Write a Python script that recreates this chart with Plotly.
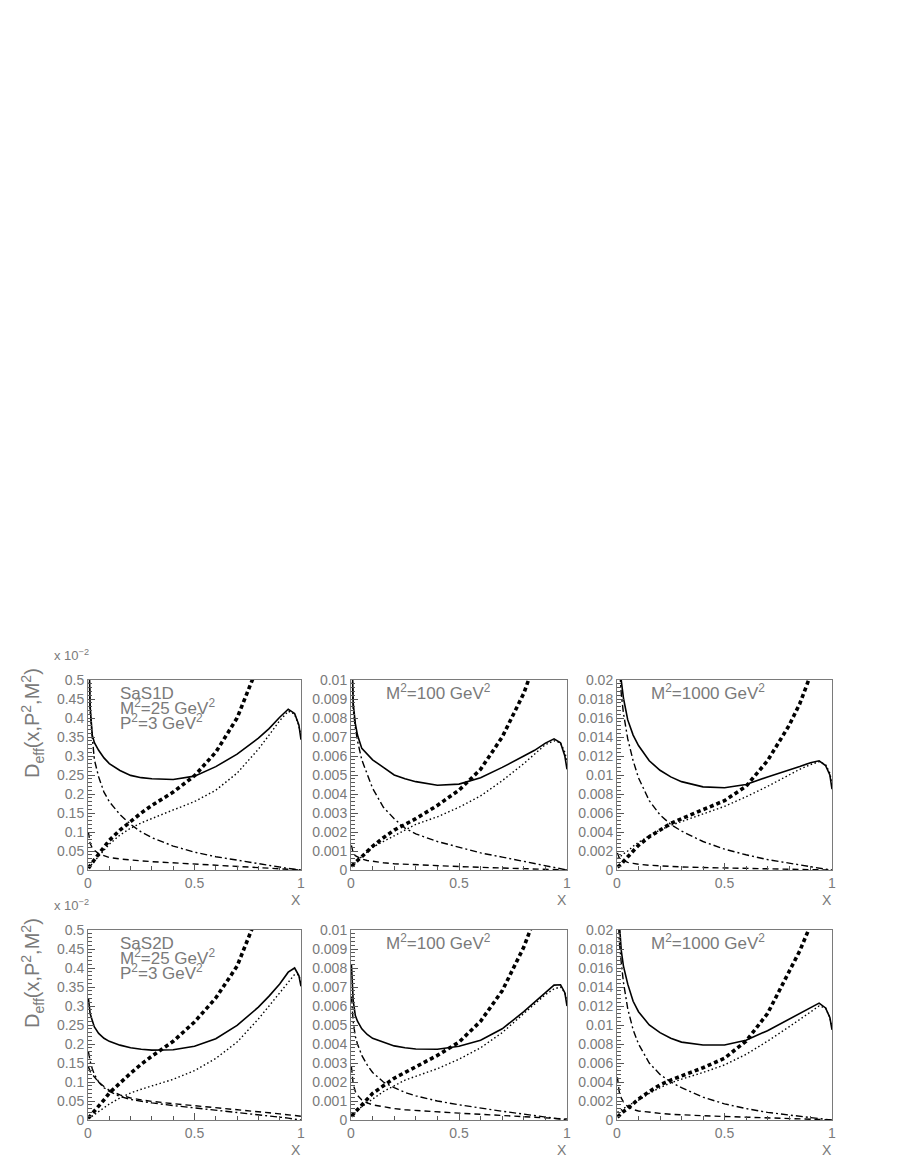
import plotly.graph_objects as go

W, H = 899, 1163

# ---------------- data ----------------
X = [0.002, 0.01, 0.02, 0.03, 0.05, 0.075, 0.1, 0.15, 0.2, 0.25, 0.3, 0.4,
     0.5, 0.6, 0.7, 0.8, 0.85, 0.9, 0.94, 0.97, 0.99, 1.0]

# Panel 1: SaS1D, M2=25 (axis in units of 1e-2)
P1_TOTAL = [0.65, 0.43, 0.355, 0.335, 0.315, 0.295, 0.28, 0.262, 0.249, 0.243, 0.24, 0.238,
            0.247, 0.272, 0.305, 0.347, 0.372, 0.402, 0.423, 0.412, 0.382, 0.343]
P1_THICK = [0.005, 0.012, 0.02, 0.027, 0.042, 0.06, 0.078, 0.105, 0.128, 0.15, 0.17, 0.205,
            0.248, 0.31, 0.40, 0.53, 0.61, 0.70, 0.78, 0.85, 0.90, 0.92]
P1_DOT = [0.005, 0.01, 0.018, 0.025, 0.038, 0.053, 0.068, 0.092, 0.11, 0.124, 0.136, 0.158,
          0.18, 0.21, 0.255, 0.318, 0.355, 0.393, 0.418, 0.41, 0.38, 0.35]
P1_DASHDOT = [0.6, 0.42, 0.35, 0.29, 0.245, 0.205, 0.18, 0.146, 0.12, 0.1, 0.085, 0.063,
              0.047, 0.035, 0.026, 0.016, 0.012, 0.007, 0.004, 0.002, 0.0005, 0.0]
P1_DASH = [0.1, 0.07, 0.058, 0.052, 0.043, 0.037, 0.033, 0.029, 0.026, 0.024, 0.022, 0.019,
           0.015, 0.012, 0.009, 0.006, 0.005, 0.003, 0.002, 0.001, 0.0003, 0.0]

# Panel 2: SaS1D, M2=100
P2_TOTAL = [0.013, 0.0088, 0.0077, 0.0071, 0.0064, 0.0061, 0.0058, 0.0054, 0.0050, 0.0048, 0.00465, 0.00446,
            0.00452, 0.00486, 0.0054, 0.006, 0.0063, 0.00668, 0.0069, 0.0067, 0.006, 0.0053]
P2_THICK = [0.0002, 0.0003, 0.0004, 0.0005, 0.0007, 0.001, 0.00125, 0.0017, 0.0021, 0.0024, 0.0027, 0.0034,
            0.0042, 0.0053, 0.007, 0.0093, 0.0107, 0.0125, 0.014, 0.015, 0.016, 0.0165]
P2_DOT = [0.0002, 0.0003, 0.0004, 0.0005, 0.0007, 0.00095, 0.0012, 0.0015, 0.0018, 0.0021, 0.0024, 0.0028,
          0.0033, 0.0039, 0.0047, 0.0056, 0.0061, 0.0066, 0.0068, 0.0067, 0.0062, 0.0057]
P2_DASHDOT = [0.012, 0.0085, 0.0075, 0.0068, 0.0058, 0.005, 0.0043, 0.0033, 0.0027, 0.0022, 0.0019, 0.0015,
              0.0012, 0.0009, 0.00068, 0.00045, 0.00034, 0.00022, 0.00012, 0.00005, 0.00001, 0.0]
P2_DASH = [0.0013, 0.0009, 0.00075, 0.00068, 0.00058, 0.0005, 0.00045, 0.00038, 0.00033, 0.0003, 0.00027, 0.00022,
           0.00018, 0.00014, 0.00011, 0.00008, 0.00006, 0.00004, 0.00003, 0.00001, 0.0, 0.0]

# Panel 3: SaS1D, M2=1000
P3_TOTAL = [0.03, 0.024, 0.0199, 0.0181, 0.0158, 0.0142, 0.0131, 0.0115, 0.0105, 0.0098, 0.0093, 0.00875,
            0.00865, 0.0090, 0.0098, 0.0105, 0.0109, 0.0113, 0.0115, 0.011, 0.0100, 0.0085]
P3_THICK = [0.0003, 0.0004, 0.0006, 0.0009, 0.0014, 0.002, 0.0026, 0.0035, 0.0042, 0.0049, 0.0054, 0.0063,
            0.0073, 0.0088, 0.0115, 0.0152, 0.0175, 0.0205, 0.023, 0.025, 0.026, 0.027]
P3_DOT = [0.0012, 0.0013, 0.0015, 0.0017, 0.002, 0.0025, 0.0029, 0.0036, 0.0042, 0.0047, 0.0051, 0.0059,
          0.0067, 0.0077, 0.0088, 0.01, 0.0106, 0.0111, 0.0114, 0.0111, 0.0102, 0.0090]
P3_DASHDOT = [0.03, 0.022, 0.0185, 0.0165, 0.0138, 0.0115, 0.0097, 0.0073, 0.0058, 0.0048, 0.0041, 0.003,
              0.0022, 0.0016, 0.0011, 0.0007, 0.0005, 0.0003, 0.00015, 0.00006, 0.00001, 0.0]
P3_DASH = [0.0018, 0.0013, 0.0011, 0.001, 0.0008, 0.0007, 0.0006, 0.0005, 0.00042, 0.00036, 0.00032, 0.00026,
           0.0002, 0.00016, 0.00012, 0.00008, 0.00006, 0.00004, 0.00003, 0.00001, 0.0, 0.0]

# Panel 4: SaS2D, M2=25 (axis in units of 1e-2)
P4_TOTAL = [0.32, 0.28, 0.262, 0.245, 0.228, 0.215, 0.207, 0.197, 0.19, 0.186, 0.184, 0.185,
            0.194, 0.214, 0.249, 0.297, 0.326, 0.358, 0.389, 0.4, 0.38, 0.352]
P4_THICK = [0.005, 0.01, 0.017, 0.023, 0.035, 0.053, 0.071, 0.098, 0.123, 0.147, 0.168, 0.207,
            0.258, 0.321, 0.405, 0.545, 0.63, 0.73, 0.82, 0.9, 0.95, 0.98]
P4_DOT = [0.003, 0.006, 0.01, 0.014, 0.022, 0.032, 0.042, 0.058, 0.071, 0.081, 0.089, 0.107,
          0.13, 0.162, 0.205, 0.266, 0.3, 0.335, 0.365, 0.383, 0.382, 0.362]
P4_DASHDOT = [0.18, 0.155, 0.135, 0.12, 0.1, 0.085, 0.075, 0.062, 0.054, 0.049, 0.045, 0.038,
              0.032, 0.026, 0.021, 0.015, 0.012, 0.008, 0.005, 0.002, 0.0005, 0.0]
P4_DASH = [0.14, 0.128, 0.12, 0.113, 0.1, 0.088, 0.078, 0.066, 0.058, 0.053, 0.049, 0.043,
           0.038, 0.033, 0.028, 0.022, 0.019, 0.016, 0.014, 0.012, 0.011, 0.01]

# Panel 5: SaS2D, M2=100
P5_TOTAL = [0.0082, 0.0063, 0.0055, 0.0052, 0.0048, 0.0045, 0.0043, 0.0041, 0.0039, 0.0038, 0.00374, 0.00372,
            0.00388, 0.0042, 0.0048, 0.0057, 0.0062, 0.0067, 0.0071, 0.00712, 0.0067, 0.006]
P5_THICK = [0.0002, 0.0003, 0.0004, 0.0005, 0.0008, 0.0011, 0.0014, 0.0018, 0.0022, 0.0025, 0.0028, 0.0034,
            0.0041, 0.0052, 0.0068, 0.0091, 0.0106, 0.0123, 0.0138, 0.015, 0.0158, 0.016]
P5_DOT = [0.0002, 0.0003, 0.0004, 0.0005, 0.0007, 0.0009, 0.0011, 0.0015, 0.0018, 0.0021, 0.0023, 0.0027,
          0.0032, 0.0038, 0.0046, 0.0056, 0.0061, 0.0066, 0.0069, 0.0070, 0.0067, 0.0062]
P5_DASHDOT = [0.0065, 0.0052, 0.0044, 0.004, 0.0034, 0.0029, 0.0025, 0.002, 0.0017, 0.00145, 0.00127, 0.001,
              0.0008, 0.00062, 0.00046, 0.00031, 0.00024, 0.00016, 0.0001, 0.00005, 0.00001, 0.0]
P5_DASH = [0.0028, 0.0019, 0.0015, 0.0013, 0.00105, 0.0009, 0.0008, 0.00068, 0.0006, 0.00054, 0.0005, 0.00042,
           0.00036, 0.0003, 0.00024, 0.00018, 0.00015, 0.00012, 0.0001, 0.00008, 0.00006, 0.00005]

# Panel 6: SaS2D, M2=1000
P6_TOTAL = [0.028, 0.021, 0.0178, 0.0162, 0.0143, 0.0125, 0.0114, 0.0100, 0.0092, 0.0086, 0.0082, 0.0079,
            0.0079, 0.0084, 0.0094, 0.0106, 0.0112, 0.0118, 0.0123, 0.0118, 0.0108, 0.0095]
P6_THICK = [0.0003, 0.0005, 0.0007, 0.0009, 0.0012, 0.0017, 0.0022, 0.003, 0.0037, 0.0042, 0.0046, 0.0055,
            0.0065, 0.0083, 0.0112, 0.0155, 0.0178, 0.0205, 0.023, 0.025, 0.026, 0.027]
P6_DOT = [0.0008, 0.0009, 0.001, 0.0012, 0.0015, 0.0018, 0.0021, 0.0028, 0.0034, 0.0039, 0.0043, 0.005,
          0.0058, 0.0069, 0.0083, 0.0098, 0.0106, 0.0114, 0.012, 0.0118, 0.0108, 0.0097]
P6_DASHDOT = [0.025, 0.019, 0.0165, 0.0145, 0.0117, 0.0095, 0.008, 0.006, 0.0048, 0.004, 0.0034, 0.0024,
              0.0017, 0.0012, 0.0008, 0.0005, 0.00038, 0.00025, 0.00015, 0.00007, 0.00002, 0.0]
P6_DASH = [0.0045, 0.003, 0.0023, 0.0019, 0.0014, 0.0011, 0.00095, 0.0008, 0.0007, 0.0006, 0.00053, 0.00045,
           0.00037, 0.0003, 0.00023, 0.00017, 0.00014, 0.00011, 0.00008, 0.00005, 0.00002, 0.00001]

# tick labels
XTICK_VALS = [0, 0.5, 1]
XTICK_TEXT = ["0", "0.5", "1"]
YT_A_TEXT = ["0", "0.05", "0.1", "0.15", "0.2", "0.25", "0.3", "0.35", "0.4", "0.45", "0.5"]
YT_B_TEXT = ["0", "0.001", "0.002", "0.003", "0.004", "0.005", "0.006", "0.007", "0.008", "0.009", "0.01"]
YT_C_TEXT = ["0", "0.002", "0.004", "0.006", "0.008", "0.01", "0.012", "0.014", "0.016", "0.018", "0.02"]
YMAX = [0.5, 0.01, 0.02]

PANEL_LABELS = [
    ["SaS1D", "M<sup>2</sup>=25 GeV<sup>2</sup>", "P<sup>2</sup>=3 GeV<sup>2</sup>"],
    ["M<sup>2</sup>=100 GeV<sup>2</sup>"],
    ["M<sup>2</sup>=1000 GeV<sup>2</sup>"],
    ["SaS2D", "M<sup>2</sup>=25 GeV<sup>2</sup>", "P<sup>2</sup>=3 GeV<sup>2</sup>"],
    ["M<sup>2</sup>=100 GeV<sup>2</sup>"],
    ["M<sup>2</sup>=1000 GeV<sup>2</sup>"],
]

PANEL_DATA = [
    (P1_TOTAL, P1_THICK, P1_DOT, P1_DASHDOT, P1_DASH),
    (P2_TOTAL, P2_THICK, P2_DOT, P2_DASHDOT, P2_DASH),
    (P3_TOTAL, P3_THICK, P3_DOT, P3_DASHDOT, P3_DASH),
    (P4_TOTAL, P4_THICK, P4_DOT, P4_DASHDOT, P4_DASH),
    (P5_TOTAL, P5_THICK, P5_DOT, P5_DASHDOT, P5_DASH),
    (P6_TOTAL, P6_THICK, P6_DOT, P6_DASHDOT, P6_DASH),
]

# ---------------- layout geometry (pixels) ----------------
COLS = [(80, 293), (343, 559), (609, 824)]
ROWS = [(672, 862), (922, 1112)]

GRAY = "#7a7a7a"
FONT = "Liberation Sans, Arial, sans-serif"

STYLES = [
    dict(color="black", width=1.6, dash="solid"),
    dict(color="black", width=3.6, dash="4px,3px"),
    dict(color="black", width=1.4, dash="1.5px,2.5px"),
    dict(color="black", width=1.4, dash="7px,3px,2px,3px"),
    dict(color="black", width=1.4, dash="6px,4px"),
]

fig = go.Figure()
layout = dict(width=W, height=H, margin=dict(l=0, r=0, t=0, b=0, autoexpand=False),
              paper_bgcolor="white", plot_bgcolor="white", showlegend=False)
annotations = []


def py(p):
    return 1 - p / H


for i in range(6):
    r, c = divmod(i, 3)
    x0, x1 = COLS[c]
    y0, y1 = ROWS[r]
    xd = [x0 / W, x1 / W]
    yd = [py(y1), py(y0)]
    n = i + 1
    xa = "x" if n == 1 else f"x{n}"
    ya = "y" if n == 1 else f"y{n}"
    for k, ys in enumerate(PANEL_DATA[i]):
        fig.add_trace(go.Scatter(x=X, y=ys, mode="lines", line=STYLES[k],
                                 xaxis=xa, yaxis=ya, hoverinfo="skip"))
    ymax = YMAX[c]
    ytext = [YT_A_TEXT, YT_B_TEXT, YT_C_TEXT][c]
    yvals = [ymax * j / 10 for j in range(11)]
    layout[f"xaxis{n if n > 1 else ''}"] = dict(
        domain=xd, anchor=ya, range=[0, 1], showgrid=False, zeroline=False, automargin=False,
        showline=True, mirror=True, linecolor=GRAY, linewidth=1,
        tickmode="array", tickvals=XTICK_VALS, ticktext=XTICK_TEXT,
        ticks="inside", ticklen=7, tickcolor="#555", tickwidth=1,
        minor=dict(tickmode="linear", tick0=0, dtick=0.1, ticks="inside", ticklen=4,
                   tickcolor="#555", tickwidth=1),
        tickfont=dict(family=FONT, size=14, color=GRAY), fixedrange=True)
    layout[f"yaxis{n if n > 1 else ''}"] = dict(
        domain=yd, anchor=xa, range=[0, ymax], showgrid=False, zeroline=False, automargin=False,
        showline=True, mirror=True, linecolor=GRAY, linewidth=1,
        tickmode="array", tickvals=yvals, ticktext=ytext,
        ticks="inside", ticklen=7, tickcolor="#555", tickwidth=1,
        minor=dict(tickmode="linear", tick0=0, dtick=ymax / 50, ticks="inside", ticklen=4,
                   tickcolor="#555", tickwidth=1),
        tickfont=dict(family=FONT, size=14, color=GRAY), fixedrange=True)

    # "X" axis label
    annotations.append(dict(text="X", xref="paper", yref="paper",
                            x=(x1 - 5) / W, y=py(y1 + 30), xanchor="center", yanchor="middle",
                            showarrow=False, font=dict(family=FONT, size=14, color=GRAY)))
    # panel text
    labels = PANEL_LABELS[i]
    if len(labels) == 3:
        lx = x0 + 31
        for j, t in enumerate(labels):
            annotations.append(dict(text=t, xref="paper", yref="paper",
                                    x=lx / W, y=py(y0 + 24 + 15 * j),
                                    xanchor="left", yanchor="bottom", showarrow=False,
                                    borderpad=0,
                                    font=dict(family=FONT, size=17, color=GRAY)))
    else:
        lx = x0 + (34 if c == 1 else 33)
        annotations.append(dict(text=labels[0], xref="paper", yref="paper",
                                x=lx / W, y=py(y0 + 24),
                                xanchor="left", yanchor="bottom", showarrow=False,
                                borderpad=0,
                                font=dict(family=FONT, size=17, color=GRAY)))

for r in range(2):
    y0, y1 = ROWS[r]
    annotations.append(dict(text="D<sub>eff</sub>(x,P<sup>2</sup>,M<sup>2</sup>)",
                            xref="paper", yref="paper", x=24 / W, y=py(y0 + 43),
                            xanchor="center", yanchor="middle", textangle=-90, showarrow=False,
                            font=dict(family=FONT, size=20, color=GRAY)))
    annotations.append(dict(text="x 10<sup>\u22122</sup>", xref="paper", yref="paper",
                            x=44 / W, y=py(y0 - 25), xanchor="left", yanchor="middle",
                            showarrow=False, font=dict(family=FONT, size=13, color=GRAY)))

layout["annotations"] = annotations
fig.update_layout(**layout)
fig.write_html("out.html")
